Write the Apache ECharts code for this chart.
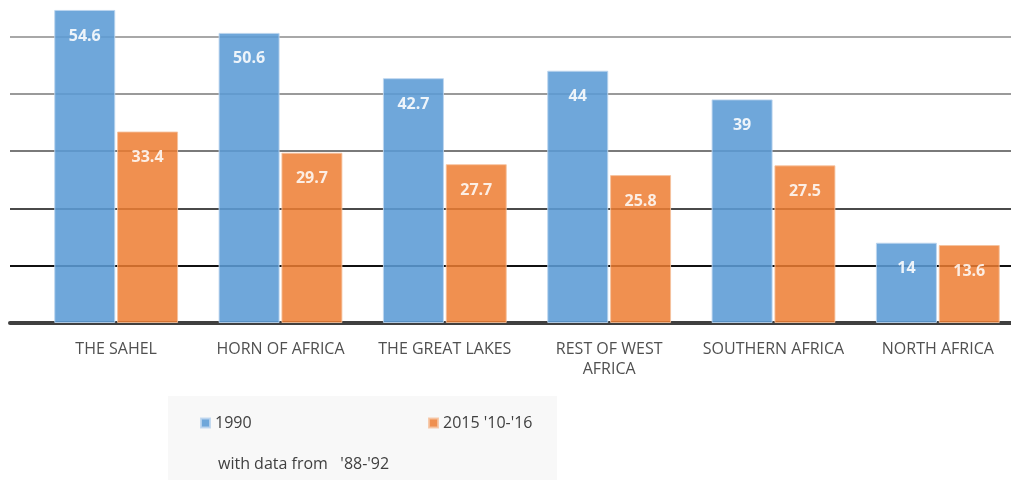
<!DOCTYPE html>
<html>
<head>
<meta charset="utf-8">
<script src="https://cdn.jsdelivr.net/npm/echarts@6/dist/echarts.min.js"></script>
<style>
  html, body { margin: 0; padding: 0; background: #fff; overflow: hidden; }
  /* the plot is cropped at the top and right in the original, so the canvas is bigger and shifted */
  #chart { position: absolute; left: 0; top: -21px; width: 1020px; height: 501px; }
</style>
</head>
<body>
<div id="chart"></div>
<script>
var regions = ['THE SAHEL', 'HORN OF AFRICA', 'THE GREAT LAKES', 'REST OF WEST\nAFRICA', 'SOUTHERN AFRICA', 'NORTH AFRICA'];
var values1990 = [54.6, 50.6, 42.7, 44, 39, 14];
var values2015 = [33.4, 29.7, 27.7, 25.8, 27.5, 13.6];
var yTicks = [0, 60, 10];  // min, max, interval
var gridColors = ['#333', '#111', '#4a4a4a', '#7a7a7a', '#9a9a9a', '#a8a8a8', '#b0b0b0'];

var font = '"Open Sans", sans-serif';
var off = 21;
var chart = echarts.init(document.getElementById('chart'));

var valueLabel = {
  show: true,
  position: 'insideTop',
  distance: 18,
  color: '#fff',
  fontWeight: 'bold',
  fontSize: 16,
  fontFamily: font
};

option = {
  animation: false,
  grid: [
    { left: 10, right: 0, top: 0, bottom: 157 },
    { left: 34, right: 0, top: 0, bottom: 157 }
  ],
  xAxis: [
    {
      gridIndex: 0, type: 'category', data: [''],
      axisLine: { lineStyle: { color: '#404040', width: 4 } },
      axisTick: { show: false }, axisLabel: { show: false }
    },
    {
      gridIndex: 1, type: 'category', data: regions,
      axisLine: { show: false }, axisTick: { show: false },
      axisLabel: { color: '#505050', fontSize: 16, fontFamily: font, margin: 16, lineHeight: 20, interval: 0 }
    }
  ],
  yAxis: [
    {
      gridIndex: 0, type: 'value', min: yTicks[0], max: yTicks[1], interval: yTicks[2],
      axisLabel: { show: false }, axisLine: { show: false }, axisTick: { show: false },
      splitLine: { lineStyle: { color: gridColors, width: 2 } }
    },
    {
      gridIndex: 1, type: 'value', min: yTicks[0], max: yTicks[1], interval: yTicks[2],
      axisLabel: { show: false }, splitLine: { show: false }
    }
  ],
  legend: [
    {
      data: ['1990'], left: 195, top: 410 + off, itemWidth: 9, itemHeight: 9, icon: 'rect', itemGap: 5,
      textStyle: { color: '#404040', fontSize: 16, fontFamily: font }
    },
    {
      data: ["2015 '10-'16"], left: 423, top: 410 + off, itemWidth: 9, itemHeight: 9, icon: 'rect',
      textStyle: { color: '#404040', fontSize: 16, fontFamily: font }
    }
  ],
  graphic: [
    {
      type: 'rect', z: -10, left: 168, top: 396 + off,
      shape: { width: 389, height: 84 },
      style: { fill: '#f8f8f8' }
    },
    {
      type: 'text', left: 218, top: 456 + off,
      style: { text: "with data from   '88-'92", fill: '#404040', fontSize: 16, fontFamily: font }
    }
  ],
  series: [
    {
      name: '1990', type: 'bar', xAxisIndex: 1, yAxisIndex: 1,
      data: values1990, barWidth: 61, barGap: '3%',
      itemStyle: { color: '#5b9bd5', opacity: 0.88, borderColor: '#bcd5ee', borderWidth: 1 },
      label: valueLabel
    },
    {
      name: "2015 '10-'16", type: 'bar', xAxisIndex: 1, yAxisIndex: 1,
      data: values2015, barWidth: 61,
      itemStyle: { color: '#ed7d31', opacity: 0.85, borderColor: '#f6c3a0', borderWidth: 1 },
      label: valueLabel
    }
  ]
};
chart.setOption(option);
</script>
</body>
</html>
